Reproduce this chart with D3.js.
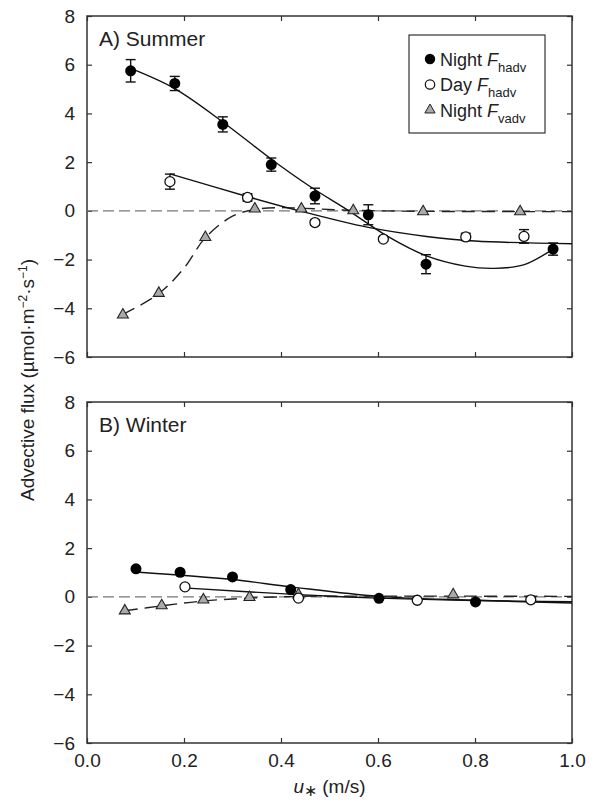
<!DOCTYPE html>
<html>
<head>
<meta charset="utf-8">
<script src="https://cdn.jsdelivr.net/npm/d3@7"></script>
<style>
  body { margin: 0; background: #fff; }
  svg { display: block; font-family: "Liberation Sans", Arial, sans-serif; }
</style>
</head>
<body>
<div id="chart"></div>
<script>
// ---- data ----
const xTicks = [0, 0.2, 0.4, 0.6, 0.8, 1.0];
const yTicks = [-6, -4, -2, 0, 2, 4, 6, 8];

// A) Summer
const sumNightU = [0.090, 0.181, 0.280, 0.380, 0.470, 0.580, 0.699, 0.961];
const sumNightF = [5.75, 5.23, 3.55, 1.90, 0.61, -0.16, -2.19, -1.57];
const sumNightErr = [0.46, 0.29, 0.31, 0.27, 0.32, 0.41, 0.39, 0.25];
const sumDayU = [0.171, 0.331, 0.470, 0.611, 0.781, 0.901];
const sumDayF = [1.20, 0.55, -0.48, -1.16, -1.07, -1.05];
const sumDayErr = [0.31, 0.15, 0.10, 0.08, 0.15, 0.28];
const sumVadvU = [0.074, 0.148, 0.244, 0.346, 0.442, 0.549, 0.693, 0.893];
const sumVadvF = [-4.27, -3.38, -1.09, 0.08, 0.08, 0.01, -0.03, -0.03];

// fitted curves (summer)
const sumNightFitU = [0.090, 0.180, 0.280, 0.380, 0.460, 0.540, 0.620, 0.700, 0.780, 0.840, 0.900, 0.961];
const sumNightFitF = [5.85, 5.03, 3.65, 2.12, 1.00, 0.00, -1.05, -1.85, -2.27, -2.36, -2.22, -1.57];
const sumDayFitU = [0.171, 0.330, 0.430, 0.580, 0.700, 0.800, 1.0];
const sumDayFitF = [1.52, 0.59, 0.04, -0.68, -1.05, -1.24, -1.35];
const sumVadvFitU = [0.074, 0.148, 0.200, 0.244, 0.300, 0.346, 0.400, 0.450, 0.550, 0.700, 1.0];
const sumVadvFitF = [-4.25, -3.40, -2.35, -1.10, -0.22, 0.06, 0.13, 0.10, 0.02, -0.02, -0.03];

// B) Winter
const winNightU = [0.101, 0.192, 0.300, 0.420, 0.602, 0.801];
const winNightF = [1.15, 1.01, 0.82, 0.30, -0.06, -0.21];
const winDayU = [0.202, 0.436, 0.681, 0.915];
const winDayF = [0.41, -0.05, -0.14, -0.12];
const winVadvU = [0.078, 0.154, 0.240, 0.335, 0.436, 0.755];
const winVadvF = [-0.57, -0.36, -0.12, -0.02, 0.09, 0.09];

const winNightFitU = [0.101, 0.300, 0.420, 0.600, 0.800, 1.0];
const winNightFitF = [1.02, 0.71, 0.41, 0.02, -0.14, -0.25];
const winDayFitU = [0.208, 0.436, 0.600, 0.800, 1.0];
const winDayFitF = [0.36, 0.09, -0.05, -0.15, -0.20];
const winVadvFitU = [0.078, 0.154, 0.240, 0.335, 0.440, 0.600, 0.750, 1.0];
const winVadvFitF = [-0.57, -0.37, -0.17, -0.05, 0.02, 0.03, 0.03, 0.02];

// ---- layout ----
const width = 596, height = 805;
const plotLeft = 87, plotRight = 572;
const fontMain = 19;

const svg = d3.select("#chart").append("svg")
  .attr("width", width)
  .attr("height", height);

const x = d3.scaleLinear().domain([0, 1]).range([plotLeft, plotRight]);

const zip = (us, fs, es) => us.map((u, i) => ({ u: u, f: fs[i], e: es ? es[i] : 0 }));

function panel(top, bottom, opt) {
  const y = d3.scaleLinear().domain([-6, 8]).range([bottom, top]);
  const g = svg.append("g");

  // axes with inward ticks
  const fmtY = d => (d < 0 ? "\u2212" + Math.abs(d) : d);
  g.append("g").attr("transform", `translate(${plotLeft},0)`)
    .call(d3.axisLeft(y).tickValues(yTicks).tickSize(-5).tickPadding(12).tickFormat(fmtY));
  g.append("g").attr("transform", `translate(${plotRight},0)`)
    .call(d3.axisRight(y).tickValues(yTicks).tickSize(-5).tickFormat(() => ""));
  g.append("g").attr("transform", `translate(0,${top})`)
    .call(d3.axisTop(x).tickValues(xTicks).tickSize(-5).tickFormat(() => ""));
  g.append("g").attr("transform", `translate(0,${bottom})`)
    .call(d3.axisBottom(x).tickValues(xTicks).tickSize(-5).tickPadding(11)
      .tickFormat(opt.xLabels ? d3.format(".1f") : () => ""));

  g.selectAll(".domain").remove();
  g.selectAll(".tick line").attr("stroke", "#333").attr("stroke-width", 1.2);
  g.selectAll(".tick text").attr("font-size", fontMain).attr("fill", "#222")
    .attr("font-family", "Liberation Sans, Arial, sans-serif");

  g.append("rect")
    .attr("x", plotLeft).attr("y", top)
    .attr("width", plotRight - plotLeft).attr("height", bottom - top)
    .attr("fill", "none").attr("stroke", "#333").attr("stroke-width", 1.5);

  // zero line
  g.append("line")
    .attr("x1", x(0)).attr("x2", x(1))
    .attr("y1", y(0)).attr("y2", y(0))
    .attr("stroke", "#777").attr("stroke-width", 1.2)
    .attr("stroke-dasharray", "11,5");

  const line = d3.line().x(d => x(d.u)).y(d => y(d.f)).curve(d3.curveCatmullRom.alpha(0.5));

  // fitted curves
  g.append("path").datum(opt.vadvFit).attr("d", line)
    .attr("fill", "none").attr("stroke", "#222").attr("stroke-width", 1.4)
    .attr("stroke-dasharray", "13,7");
  g.append("path").datum(opt.dayFit).attr("d", line)
    .attr("fill", "none").attr("stroke", "#111").attr("stroke-width", 1.4);
  g.append("path").datum(opt.nightFit).attr("d", line)
    .attr("fill", "none").attr("stroke", "#111").attr("stroke-width", 1.4);

  // error bars
  const errs = opt.night.concat(opt.day).filter(d => d.e > 0);
  const eb = g.selectAll(".err").data(errs).enter().append("g").attr("class", "err")
    .attr("stroke", "#111").attr("stroke-width", 1.4);
  eb.append("line").attr("x1", d => x(d.u)).attr("x2", d => x(d.u))
    .attr("y1", d => y(d.f - d.e)).attr("y2", d => y(d.f + d.e));
  eb.append("line").attr("x1", d => x(d.u) - 5).attr("x2", d => x(d.u) + 5)
    .attr("y1", d => y(d.f - d.e)).attr("y2", d => y(d.f - d.e));
  eb.append("line").attr("x1", d => x(d.u) - 5).attr("x2", d => x(d.u) + 5)
    .attr("y1", d => y(d.f + d.e)).attr("y2", d => y(d.f + d.e));

  // markers
  const tri = d3.symbol().type(d3.symbolTriangle).size(52);
  g.selectAll(".tri").data(opt.vadv).enter().append("path")
    .attr("d", tri)
    .attr("transform", d => `translate(${x(d.u)},${y(d.f)})`)
    .attr("fill", "#aaa").attr("stroke", "#222").attr("stroke-width", 1.1);
  g.selectAll(".day").data(opt.day).enter().append("circle")
    .attr("cx", d => x(d.u)).attr("cy", d => y(d.f)).attr("r", 5)
    .attr("fill", "#fff").attr("stroke", "#111").attr("stroke-width", 1.3);
  g.selectAll(".night").data(opt.night).enter().append("circle")
    .attr("cx", d => x(d.u)).attr("cy", d => y(d.f)).attr("r", 5.5)
    .attr("fill", "#000");

  g.append("text")
    .attr("x", plotLeft + 12).attr("y", top + 30)
    .attr("font-size", 21).attr("fill", "#222")
    .text(opt.title);

  return y;
}

panel(16, 357, {
  title: "A) Summer",
  xLabels: false,
  night: zip(sumNightU, sumNightF, sumNightErr),
  day: zip(sumDayU, sumDayF, sumDayErr),
  vadv: zip(sumVadvU, sumVadvF),
  nightFit: zip(sumNightFitU, sumNightFitF),
  dayFit: zip(sumDayFitU, sumDayFitF),
  vadvFit: zip(sumVadvFitU, sumVadvFitF)
});

panel(402, 743, {
  title: "B) Winter",
  xLabels: true,
  night: zip(winNightU, winNightF),
  day: zip(winDayU, winDayF),
  vadv: zip(winVadvU, winVadvF),
  nightFit: zip(winNightFitU, winNightFitF),
  dayFit: zip(winDayFitU, winDayFitF),
  vadvFit: zip(winVadvFitU, winVadvFitF)
});

// legend
const lg = svg.append("g");
lg.append("rect").attr("x", 409).attr("y", 35).attr("width", 136).attr("height", 98)
  .attr("fill", "#fff").attr("stroke", "#333").attr("stroke-width", 1.2);
const legendItems = [
  { label: "Night ", sub: "hadv", kind: "night" },
  { label: "Day ", sub: "hadv", kind: "day" },
  { label: "Night ", sub: "vadv", kind: "vadv" }
];
legendItems.forEach((d, i) => {
  const cy = 59 + i * 25.5;
  if (d.kind === "night") {
    lg.append("circle").attr("cx", 430).attr("cy", cy).attr("r", 5.2).attr("fill", "#000");
  } else if (d.kind === "day") {
    lg.append("circle").attr("cx", 430).attr("cy", cy).attr("r", 4.7)
      .attr("fill", "#fff").attr("stroke", "#111").attr("stroke-width", 1.2);
  } else {
    lg.append("path").attr("d", d3.symbol().type(d3.symbolTriangle).size(46))
      .attr("transform", `translate(430,${cy})`)
      .attr("fill", "#aaa").attr("stroke", "#222").attr("stroke-width", 1);
  }
  const t = lg.append("text").attr("x", 440).attr("y", cy + 6.5)
    .attr("font-size", 18).attr("fill", "#222");
  t.append("tspan").text(d.label);
  t.append("tspan").attr("font-style", "italic").text("F");
  t.append("tspan").attr("font-size", 13).attr("dy", 6).text(d.sub);
});

// axis titles
const xt = svg.append("text")
  .attr("x", (plotLeft + plotRight) / 2).attr("y", 793)
  .attr("text-anchor", "middle").attr("font-size", fontMain).attr("fill", "#222");
xt.append("tspan").attr("font-style", "italic").text("u");
xt.append("tspan").attr("dy", 3).attr("font-size", 16).text("\u2217");
xt.append("tspan").attr("dy", -3).text(" (m/s)");

const yt = svg.append("text")
  .attr("transform", "translate(34,380) rotate(-90)")
  .attr("text-anchor", "middle").attr("font-size", fontMain).attr("fill", "#222");
yt.append("tspan").text("Advective flux (\u00b5mol\u00b7m");
yt.append("tspan").attr("dy", -7).attr("font-size", 12).text("\u22122");
yt.append("tspan").attr("dy", 7).text("\u00b7s");
yt.append("tspan").attr("dy", -7).attr("font-size", 12).text("\u22121");
yt.append("tspan").attr("dy", 7).text(")");
</script>
</body>
</html>
